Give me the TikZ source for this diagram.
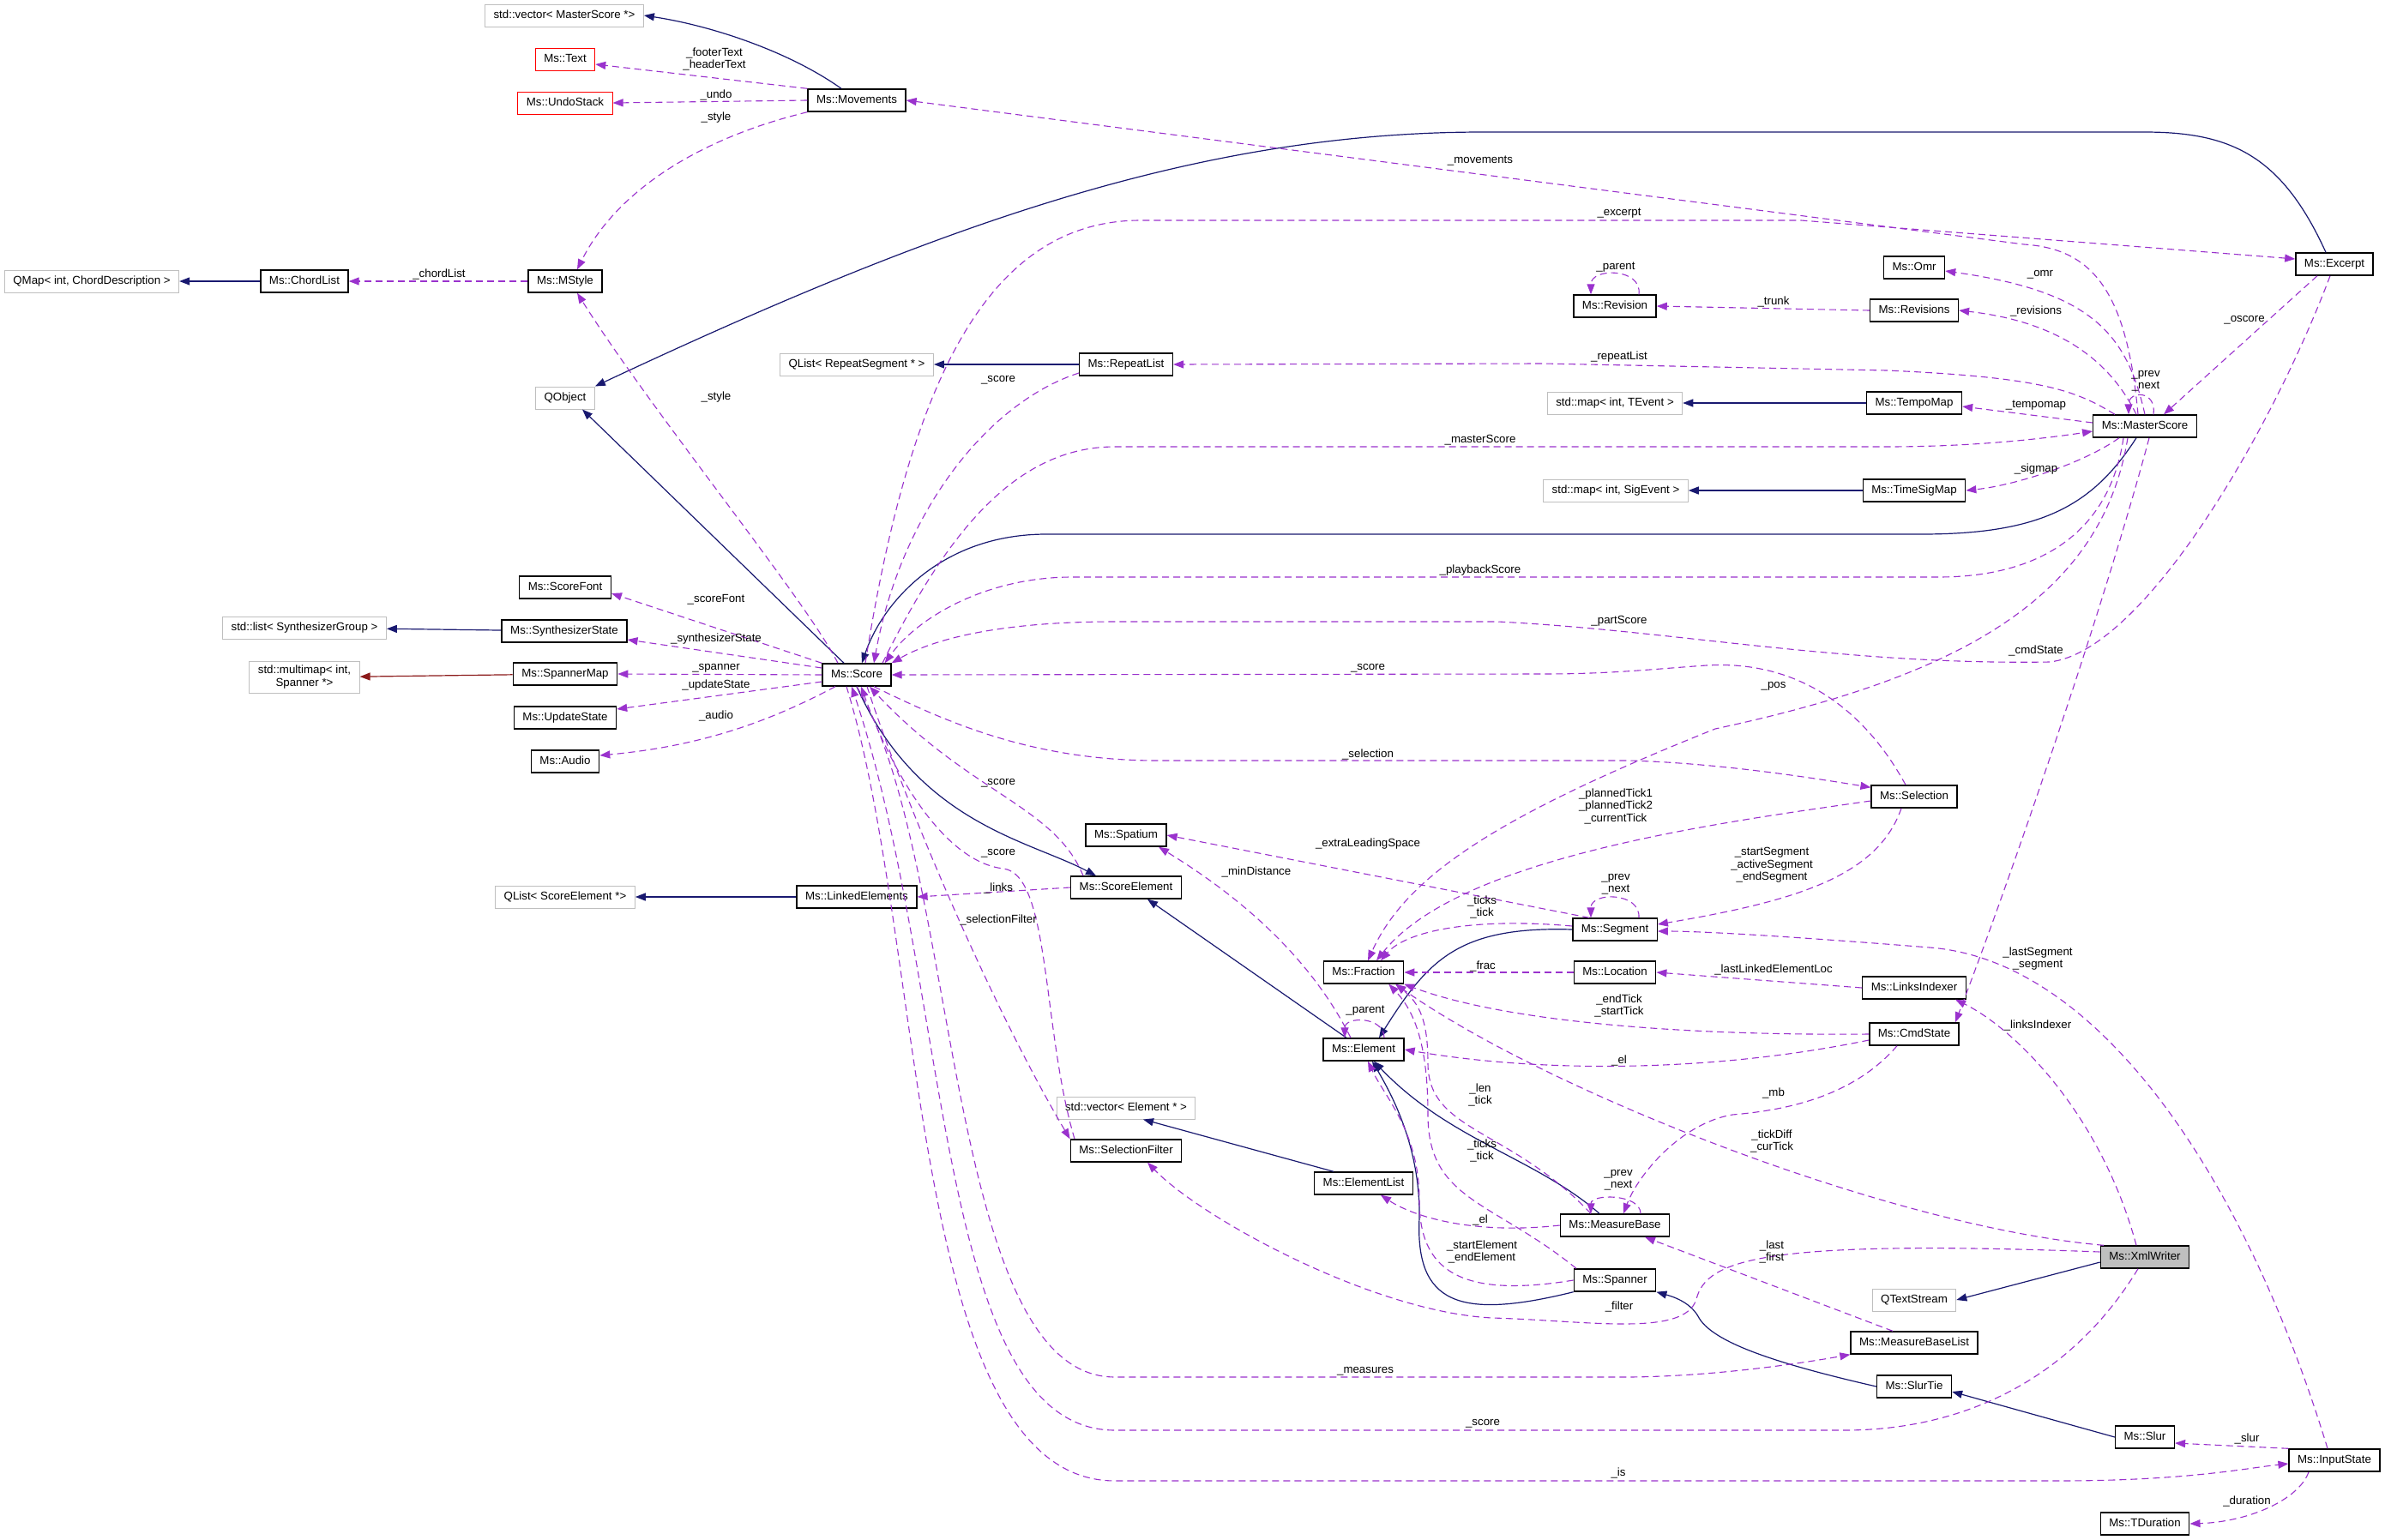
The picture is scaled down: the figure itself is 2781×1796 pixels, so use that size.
\documentclass[tikz,border=0pt]{standalone}
\usepackage{fontspec}
\setmainfont{Liberation Sans}
\usepackage{xcolor}
\usepackage{tikz}
\usetikzlibrary{positioning,arrows.meta}

\definecolor{inhblue}{RGB}{25,25,112}
\definecolor{usepurple}{RGB}{154,50,205}
\definecolor{tmplred}{RGB}{139,26,26}
\definecolor{extgray}{RGB}{191,191,191}

\tikzset{
  cls/.style={draw=black, line width=1.4pt, fill=white, font=\fontsize{13.3}{15}\selectfont,
    inner xsep=10pt, inner ysep=0pt, minimum height=26pt, text height=9.6pt, text depth=2.8pt},
  ext/.style={cls, draw=extgray, line width=1pt},
  extml/.style={draw=extgray, line width=1pt, fill=white, font=\fontsize{13.3}{15}\selectfont,
    align=center, inner xsep=10pt, inner ysep=5pt},
  undoc/.style={cls, draw=red, line width=1pt},
  focus/.style={cls, fill=extgray},
  inh/.style={draw=inhblue, line width=1.2pt, -{Triangle[length=12pt,width=9pt]}},
  tmpl/.style={inh, draw=tmplred},
  use/.style={draw=usepurple, line width=1.1pt, dash pattern=on 8pt off 5pt, -{Triangle[length=12pt,width=9pt]}},
  lbl/.style={font=\fontsize{13.3}{14.5}\selectfont, inner sep=0pt, align=center}
}

\begin{document}
\begin{tikzpicture}[x=1pt,y=-1pt]
  \fill[white] (0,0) rectangle (2781,1796);
  \useasboundingbox (0,0) rectangle (2781,1796);

  \node[ext] (vecMS) at (658,18) {std::vector< MasterScore *>};
  \node[undoc] (txt) at (659,69) {Ms::Text};
  \node[undoc] (undo) at (659,120) {Ms::UndoStack};
  \node[cls] (mov) at (999,117) {Ms::Movements};
  \node[ext] (qmap) at (107,328) {QMap< int, ChordDescription >};
  \node[cls] (chord) at (355,328) {Ms::ChordList};
  \node[cls] (mstyle) at (659,328) {Ms::MStyle};
  \node[ext] (qobj) at (659,464) {QObject};
  \node[ext] (qlistrs) at (999,425) {QList< RepeatSegment * >};
  \node[cls] (rlist) at (1313,425) {Ms::RepeatList};
  \node[cls] (excerpt) at (2722,308) {Ms::Excerpt};
  \node[cls] (omr) at (2232,312) {Ms::Omr};
  \node[cls] (rev) at (1883,357) {Ms::Revision};
  \node[cls] (revs) at (2232,362) {Ms::Revisions};
  \node[ext] (mapTE) at (1883,470) {std::map< int, TEvent >};
  \node[cls] (tempo) at (2232,470) {Ms::TempoMap};
  \node[cls] (ms) at (2501,497) {Ms::MasterScore};
  \node[ext] (mapSE) at (1884,572) {std::map< int, SigEvent >};
  \node[cls] (tsig) at (2232,572) {Ms::TimeSigMap};
  \node[cls] (sfont) at (659,685) {Ms::ScoreFont};
  \node[ext] (listSynth) at (355,732) {std::list< SynthesizerGroup >};
  \node[cls] (synth) at (658,736) {Ms::SynthesizerState};
  \node[extml] (mmap) at (355,790) {std::multimap< int,\\ Spanner *>};
  \node[cls] (spmap) at (659,786) {Ms::SpannerMap};
  \node[cls] (upd) at (659,837) {Ms::UpdateState};
  \node[cls] (audio) at (659,888) {Ms::Audio};
  \node[cls] (score) at (999,787) {Ms::Score};
  \node[cls] (sel) at (2232,929) {Ms::Selection};
  \node[cls] (spat) at (1313,974) {Ms::Spatium};
  \node[cls] (selem) at (1313,1035) {Ms::ScoreElement};
  \node[ext] (qlistse) at (659,1046) {QList< ScoreElement *>};
  \node[cls] (linked) at (999,1046) {Ms::LinkedElements};
  \node[cls] (seg) at (1883,1084) {Ms::Segment};
  \node[cls] (frac) at (1590,1134) {Ms::Fraction};
  \node[cls] (loc) at (1883,1134) {Ms::Location};
  \node[cls] (lidx) at (2232,1152) {Ms::LinksIndexer};
  \node[cls] (elem) at (1590,1224) {Ms::Element};
  \node[cls] (cmd) at (2232,1206) {Ms::CmdState};
  \node[ext] (vecEl) at (1313,1292) {std::vector< Element * >};
  \node[cls] (sfilt) at (1313,1342) {Ms::SelectionFilter};
  \node[cls] (elist) at (1590,1380) {Ms::ElementList};
  \node[cls] (mbase) at (1883,1429) {Ms::MeasureBase};
  \node[focus] (xml) at (2501,1466) {Ms::XmlWriter};
  \node[cls] (spanner) at (1883,1493) {Ms::Spanner};
  \node[ext] (qts) at (2232,1516) {QTextStream};
  \node[cls] (mbl) at (2232,1566) {Ms::MeasureBaseList};
  \node[cls] (slurtie) at (2232,1617) {Ms::SlurTie};
  \node[cls] (slur) at (2501,1676) {Ms::Slur};
  \node[cls] (istate) at (2722,1703) {Ms::InputState};
  \node[cls] (tdur) at (2501,1777) {Ms::TDuration};

  \draw[inh] ([xshift=-18pt]mov.north) .. controls (920,60) and (830,30) .. (vecMS.east);
  \draw[inh] (chord) -- (qmap);
  \draw[inh] ([xshift=-10pt]excerpt.north) .. controls (2660,180) and (2600,154) .. (2500,154) -- (1730,154) .. controls (1400,154) and (1100,260) .. (qobj.north east);
  \draw[inh] ([xshift=-15pt]score.north) -- ([xshift=20pt]qobj.south);
  \draw[inh] (rlist) -- (qlistrs);
  \draw[inh] (tempo) -- (mapTE);
  \draw[inh] (tsig) -- (mapSE);
  \draw[inh] ([xshift=-10pt]ms.south) .. controls (2440,590) and (2380,623) .. (2240,623) -- (1220,623) .. controls (1100,623) and (1030,700) .. ([xshift=6pt]score.north);
  \draw[inh] (synth) -- (listSynth);
  \draw[tmpl] (spmap) -- (mmap);
  \draw[inh] (linked) -- (qlistse);
  \draw[inh] (score.south) .. controls (1070,960) and (1200,980) .. ([xshift=-35pt]selem.north);
  \draw[inh] ([xshift=-20pt]elem.north) -- ([xshift=25pt]selem.south);
  \draw[inh] (seg.west) .. controls (1700,1080) and (1665,1120) .. ([xshift=18pt]elem.north);
  \draw[inh] ([xshift=-18pt]mbase.north) .. controls (1790,1350) and (1690,1330) .. ([xshift=12pt]elem.south);
  \draw[inh] (spanner.south west) .. controls (1700,1540) and (1650,1520) .. (1655,1420) .. controls (1656,1340) and (1625,1280) .. ([xshift=10pt]elem.south);
  \draw[inh] ([xshift=-35pt]elist.north) -- ([xshift=20pt]vecEl.south);
  \draw[inh] ([yshift=-6pt]xml.west) -- (qts.east);
  \draw[inh] (slurtie.west) .. controls (2070,1590) and (1995,1565) .. (1980,1535) .. controls (1970,1518) and (1950,1512) .. (spanner.south east);
  \draw[inh] (slur.west) -- ([yshift=-6pt]slurtie.east);

  \draw[use] (mov.north west) -- ([yshift=-6pt]txt.east);
  \draw[use] (mov.west) -- (undo.east);
  \draw[use] (mov.south west) .. controls (820,160) and (720,220) .. ([xshift=14pt]mstyle.north);
  \draw[use] (mstyle.west) -- (chord.east);
  \draw[use] ([xshift=-8pt]ms.north) .. controls (2480,340) and (2440,290) .. (2360,285) -- (mov.east);
  \draw[use] ([xshift=-22pt]score.north) .. controls (940,700) and (760,480) .. ([xshift=14pt]mstyle.south);
  \draw[use] ([xshift=10pt]score.north) .. controls (1060,450) and (1150,257) .. (1330,257) -- (2100,257) -- ([yshift=6pt]excerpt.west);
  \draw[use] ([xshift=-20pt]excerpt.south) -- ([xshift=22pt]ms.north);
  \draw[use] ([yshift=-10pt]rlist.west) .. controls (1150,470) and (1050,600) .. ([xshift=20pt]score.north);
  \draw[use] ([xshift=-35pt]ms.north) .. controls (2420,455) and (2380,440) .. (2200,432) -- (1800,424) -- (rlist.east);
  \draw[use] ([xshift=30pt]score.north) .. controls (1100,630) and (1180,521) .. (1300,521) -- (2200,521) .. controls (2300,521) and (2380,512) .. ([yshift=-6pt]ms.west);
  \draw[use] (ms.north) .. controls (2480,390) and (2440,340) .. ([yshift=-4pt]omr.east);
  \draw[use] ([xshift=-10pt]ms.north) .. controls (2460,420) and (2400,375) .. (revs.east);
  \draw[use] (revs.west) -- (rev.east);
  \draw[use] ([xshift=28pt]rev.north) .. controls (1915,312) and (1855,312) .. ([xshift=-28pt]rev.north);
  \draw[use] ([yshift=4pt]ms.west) -- ([yshift=-4pt]tempo.east);
  \draw[use] ([xshift=10pt]ms.north) .. controls (2515,455) and (2482,455) .. ([xshift=-19pt]ms.north);
  \draw[use] ([xshift=-30pt]ms.south) .. controls (2430,540) and (2350,566) .. (tsig.east);
  \draw[use] ([xshift=-25pt]ms.south) .. controls (2460,620) and (2380,673) .. (2260,673) -- (1250,673) .. controls (1150,673) and (1070,720) .. ([xshift=-8pt]score.north east);
  \draw[use] ([xshift=-5pt]excerpt.south) .. controls (2650,500) and (2500,760) .. (2390,772) .. controls (2150,776) and (1950,735) .. (1746,725) -- (1300,725) .. controls (1150,725) and (1080,750) .. (score.north east);
  \draw[use] ([xshift=-10pt]sel.north) .. controls (2170,820) and (2090,770) .. (1990,776) .. controls (1930,780) and (1880,786) .. (1800,786) -- (score.east);
  \draw[use] ([xshift=20pt]score.south) .. controls (1100,840) and (1200,887) .. (1350,887) -- (1900,887) .. controls (2000,890) and (2100,905) .. ([yshift=-3pt]sel.north west);
  \draw[use] ([xshift=5pt]ms.south) .. controls (2450,720) and (2335,1050) .. ([xshift=-5pt]cmd.north east);
  \draw[use] ([xshift=-20pt]ms.south) .. controls (2450,700) and (2280,790) .. (2000,850) .. controls (1750,950) and (1640,1020) .. ([xshift=5pt]frac.north);
  \draw[use] ([yshift=-5pt]sel.west) .. controls (2000,960) and (1700,1000) .. ([xshift=15pt]frac.north);
  \draw[use] ([xshift=-15pt]sel.south) .. controls (2190,1020) and (2100,1050) .. ([yshift=6pt]seg.east);
  \draw[use] ([xshift=20pt]seg.north west) -- (spat.east);
  \draw[use] ([xshift=-15pt]elem.north) .. controls (1520,1100) and (1420,1030) .. ([xshift=38pt]spat.south);
  \draw[use] ([xshift=28pt]seg.north) .. controls (1913,1040) and (1855,1040) .. ([xshift=-28pt]seg.north);
  \draw[use] ([yshift=4pt]seg.west) .. controls (1720,1070) and (1640,1085) .. ([xshift=20pt]frac.north);
  \draw[use] (loc.west) -- (frac.east);
  \draw[use] (lidx.west) -- (loc.east);
  \draw[use] (cmd.west) .. controls (1950,1208) and (1750,1190) .. (frac.south east);
  \draw[use] ([yshift=-7pt]cmd.west) .. controls (2000,1250) and (1800,1252) .. (elem.east);
  \draw[use] ([xshift=-20pt]cmd.south) .. controls (2160,1280) and (2080,1295) .. (2020,1300) .. controls (1960,1310) and (1910,1370) .. ([xshift=10pt]mbase.north);
  \draw[use] ([xshift=-48pt]xml.north) .. controls (2200,1430) and (1800,1270) .. ([xshift=-10pt]frac.south east);
  \draw[use] ([xshift=-10pt]xml.north) .. controls (2450,1300) and (2350,1200) .. ([xshift=48pt]lidx.south);
  \draw[use] ([xshift=-8pt]istate.north) .. controls (2620,1380) and (2450,1120) .. (2250,1105) .. controls (2150,1097) and (2000,1086) .. ([yshift=-2pt]seg.east);
  \draw[use] ([xshift=24pt]elem.north) .. controls (1614,1185) and (1568,1185) .. ([xshift=-22pt]elem.north);
  \draw[use] ([xshift=-28pt]mbase.north) .. controls (1760,1315) and (1665,1320) .. (1665,1240) .. controls (1665,1190) and (1655,1170) .. ([xshift=-10pt]frac.south east);
  \draw[use] ([xshift=-45pt]spanner.north) .. controls (1740,1400) and (1665,1400) .. (1665,1300) .. controls (1665,1220) and (1650,1180) .. ([xshift=-18pt]frac.south east);
  \draw[use] ([xshift=30pt]mbase.north) .. controls (1913,1392) and (1855,1392) .. ([xshift=-28pt]mbase.north);
  \draw[use] (mbase.west) .. controls (1720,1440) and (1650,1420) .. ([xshift=20pt]elist.south);
  \draw[use] (spanner.west) .. controls (1700,1515) and (1655,1480) .. (1655,1400) .. controls (1655,1320) and (1615,1280) .. ([xshift=5pt]elem.south);
  \draw[use] ([xshift=-25pt]mbl.north) -- ([xshift=35pt]mbase.south);
  \draw[use] ([yshift=6pt]xml.west) .. controls (2050,1445) and (1990,1470) .. (1978,1515) .. controls (1965,1560) and (1850,1540) .. (1740,1537) .. controls (1600,1530) and (1400,1420) .. ([xshift=25pt]sfilt.south);
  \draw[use] (score.south) .. controls (1120,1000) and (1100,1606) .. (1300,1606) -- (1900,1606) .. controls (2000,1605) and (2100,1590) .. (mbl.south west);
  \draw[use] ([xshift=-8pt]xml.south) .. controls (2420,1600) and (2300,1668) .. (2150,1668) -- (1300,1668) .. controls (1090,1668) and (1110,1150) .. ([xshift=-6pt]score.south);
  \draw[use] ([xshift=-12pt]score.south) .. controls (1080,1100) and (1060,1727) .. (1300,1727) -- (2400,1727) .. controls (2550,1727) and (2620,1712) .. ([yshift=-4pt]istate.west);
  \draw[use] (istate.north west) -- ([yshift=-7pt]slur.east);
  \draw[use] ([xshift=-30pt]istate.south) .. controls (2680,1750) and (2620,1775) .. (tdur.east);
  \draw[use] ([xshift=-50pt]selem.north) .. controls (1230,940) and (1130,925) .. ([xshift=15pt]score.south);
  \draw[use] ([xshift=-60pt]sfilt.north) .. controls (1215,1200) and (1225,1020) .. (1170,1013) .. controls (1100,1005) and (1040,900) .. ([xshift=5pt]score.south);
  \draw[use] (selem.west) -- (linked.east);
  \draw[use] ([xshift=12pt]score.south) .. controls (1060,950) and (1160,1180) .. (sfilt.north west);
  \draw[use] (score.north west) -- ([yshift=-7pt]sfont.east);
  \draw[use] ([yshift=8pt]score.west) -- ([yshift=-10pt]synth.east);
  \draw[use] (score.west) -- (spmap.east);
  \draw[use] ([yshift=-8pt]score.west) -- ([yshift=10pt]upd.east);
  \draw[use] ([xshift=-25pt]score.south) .. controls (900,840) and (820,870) .. ([yshift=7pt]audio.east);

  \node[lbl] (lFooter) at (833,69) {\_footerText\\\_headerText};
  \node[lbl] (lUndo) at (835,111) {\_undo};
  \node[lbl] (lStyleA) at (835,137) {\_style};
  \node[lbl] (lChord) at (512,320) {\_chordList};
  \node[lbl] (lStyleB) at (835,463) {\_style};
  \node[lbl] (lMov) at (1726,188) {\_movements};
  \node[lbl] (lExc) at (1888,249) {\_excerpt};
  \node[lbl] (lParentA) at (1884,312) {\_parent};
  \node[lbl] (lTrunk) at (2068,352) {\_trunk};
  \node[lbl] (lOmr) at (2379,320) {\_omr};
  \node[lbl] (lRevs) at (2374,363) {\_revisions};
  \node[lbl] (lOscore) at (2617,373) {\_oscore};
  \node[lbl] (lScoreA) at (1164,443) {\_score};
  \node[lbl] (lRep) at (1888,416) {\_repeatList};
  \node[lbl] (lPrevA) at (2502,444) {\_prev\\\_next};
  \node[lbl] (lTempo) at (2374,473) {\_tempomap};
  \node[lbl] (lMaster) at (1726,513) {\_masterScore};
  \node[lbl] (lSig) at (2374,547) {\_sigmap};
  \node[lbl] (lPlay) at (1726,665) {\_playbackScore};
  \node[lbl] (lPart) at (1888,724) {\_partScore};
  \node[lbl] (lCmd) at (2374,759) {\_cmdState};
  \node[lbl] (lScoreB) at (1595,779) {\_score};
  \node[lbl] (lPos) at (2068,800) {\_pos};
  \node[lbl] (lFont) at (835,699) {\_scoreFont};
  \node[lbl] (lSynth) at (835,745) {\_synthesizerState};
  \node[lbl] (lSpan) at (835,779) {\_spanner};
  \node[lbl] (lUpd) at (835,799) {\_updateState};
  \node[lbl] (lAudio) at (835,835) {\_audio};
  \node[lbl] (lSel) at (1595,880) {\_selection};
  \node[lbl] (lPlanned) at (1884,940) {\_plannedTick1\\\_plannedTick2\\\_currentTick};
  \node[lbl] (lSegs) at (2066,1009) {\_startSegment\\\_activeSegment\\\_endSegment};
  \node[lbl] (lScoreC) at (1164,913) {\_score};
  \node[lbl] (lExtra) at (1595,984) {\_extraLeadingSpace};
  \node[lbl] (lScoreD) at (1164,995) {\_score};
  \node[lbl] (lMin) at (1465,1017) {\_minDistance};
  \node[lbl] (lPrevB) at (1884,1031) {\_prev\\\_next};
  \node[lbl] (lLinks) at (1164,1036) {\_links};
  \node[lbl] (lTicksA) at (1728,1058) {\_ticks\\\_tick};
  \node[lbl] (lSelF) at (1164,1073) {\_selectionFilter};
  \node[lbl] (lLastSeg) at (2376,1118) {\_lastSegment\\\_segment};
  \node[lbl] (lFrac) at (1729,1127) {\_frac};
  \node[lbl] (lLoc) at (2068,1131) {\_lastLinkedElementLoc};
  \node[lbl] (lEnd) at (1888,1173) {\_endTick\\\_startTick};
  \node[lbl] (lParentB) at (1592,1179) {\_parent};
  \node[lbl] (lIdx) at (2376,1196) {\_linksIndexer};
  \node[lbl] (lElA) at (1888,1237) {\_el};
  \node[lbl] (lLen) at (1726,1277) {\_len\\\_tick};
  \node[lbl] (lMb) at (2068,1275) {\_mb};
  \node[lbl] (lDiff) at (2066,1331) {\_tickDiff\\\_curTick};
  \node[lbl] (lTicksB) at (1728,1342) {\_ticks\\\_tick};
  \node[lbl] (lPrevC) at (1887,1376) {\_prev\\\_next};
  \node[lbl] (lElB) at (1726,1423) {\_el};
  \node[lbl] (lStartEl) at (1728,1460) {\_startElement\\\_endElement};
  \node[lbl] (lLast) at (2066,1460) {\_last\\\_first};
  \node[lbl] (lFilter) at (1888,1524) {\_filter};
  \node[lbl] (lMeas) at (1592,1599) {\_measures};
  \node[lbl] (lScoreE) at (1729,1660) {\_score};
  \node[lbl] (lSlur) at (2620,1678) {\_slur};
  \node[lbl] (lIs) at (1887,1718) {\_is};
  \node[lbl] (lDur) at (2620,1751) {\_duration};
\end{tikzpicture}
\end{document}
